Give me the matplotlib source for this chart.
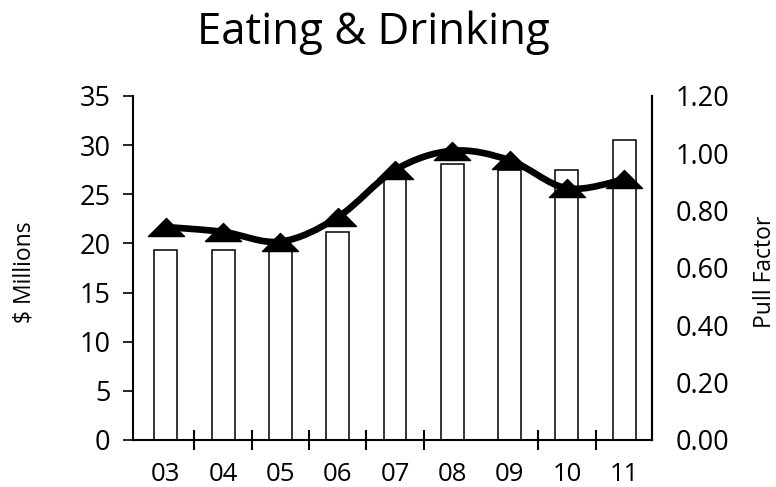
import numpy as np
import matplotlib
matplotlib.use("Agg")
import matplotlib.pyplot as plt
from matplotlib.path import Path
from matplotlib.patches import PathPatch

# ---- data ----
years = ["03", "04", "05", "06", "07", "08", "09", "10", "11"]
sales_millions = [19.3, 19.3, 19.6, 21.2, 26.6, 28.1, 27.5, 27.5, 30.5]
pull_factor = [0.743, 0.726, 0.692, 0.777, 0.942, 1.009, 0.976, 0.878, 0.909]
left_ticks = [0, 5, 10, 15, 20, 25, 30, 35]
right_ticks = [0.0, 0.2, 0.4, 0.6, 0.8, 1.0, 1.2]
right_labels = ["0.00", "0.20", "0.40", "0.60", "0.80", "1.00", "1.20"]

FONT = "Open Sans"
plt.rcParams["font.family"] = [FONT, "DejaVu Sans"]
TICK_FS = 19.5

W, H = 776, 487
fig = plt.figure(figsize=(W / 100, H / 100), dpi=100)
ax = fig.add_axes([133 / W, (H - 440) / H, (652 - 133) / W, (440 - 96) / H])

x = np.arange(len(years))
ax.bar(x, sales_millions, width=0.40, color="white", edgecolor="black",
       linewidth=1.1, zorder=2)

ax.set_xlim(-0.572, 8.485)
ax.set_ylim(0, 35)

ax.spines["top"].set_visible(False)
for s in ["left", "bottom", "right"]:
    ax.spines[s].set_linewidth(1.5)

# left axis
ax.set_yticks(left_ticks)
ax.set_yticklabels([str(v) for v in left_ticks])
ax.tick_params(axis="y", direction="out", length=7.2, width=1.2, pad=9,
               labelsize=TICK_FS)
yt = ax.yaxis.get_major_ticks()
yt[0].tick1line.set_visible(False)
yt[-1].tick1line.set_visible(False)

# bottom axis
ax.set_xticks(x)
ax.set_xticklabels(years)
ax.tick_params(axis="x", length=0, pad=16, labelsize=18.5)
minor_pos = [i + 0.5 for i in range(len(years) - 1) if i != 5]
ax.set_xticks(minor_pos, minor=True)
ax.tick_params(axis="x", which="minor", direction="inout", length=14.4,
               width=1.5)

# right axis
ax2 = ax.twinx()
ax2.set_ylim(0, 1.2)
ax2.set_xlim(ax.get_xlim())
for s in ["top", "left", "bottom"]:
    ax2.spines[s].set_visible(False)
ax2.spines["right"].set_linewidth(1.5)
ax2.set_yticks(right_ticks)
ax2.set_yticklabels(right_labels)
ax2.tick_params(axis="y", length=0, pad=17, labelsize=TICK_FS)

# smooth line (Catmull-Rom -> cubic Bezier) through the pull factor values
px = list(x.astype(float))
py = list(pull_factor)
n = len(px)
verts = [(px[0], py[0])]
codes = [Path.MOVETO]
for i in range(n - 1):
    i0 = max(i - 1, 0)
    i3 = min(i + 2, n - 1)
    c1 = (px[i] + (px[i + 1] - px[i0]) / 6, py[i] + (py[i + 1] - py[i0]) / 6)
    c2 = (px[i + 1] - (px[i3] - px[i]) / 6, py[i + 1] - (py[i3] - py[i]) / 6)
    verts += [c1, c2, (px[i + 1], py[i + 1])]
    codes += [Path.CURVE4] * 3
ax2.add_patch(PathPatch(Path(verts, codes), facecolor="none",
                        edgecolor="black", linewidth=4.8, capstyle="round",
                        zorder=3))

tri = Path([(-1, -0.5), (1, -0.5), (0, 0.5), (-1, -0.5)],
           [Path.MOVETO, Path.LINETO, Path.LINETO, Path.CLOSEPOLY])
ax2.plot(x, pull_factor, linestyle="none", marker=tri, markersize=26,
         color="black", zorder=4)

# titles and axis labels
fig.text(373.5 / W, 1 - 44 / H, "Eating & Drinking", ha="center",
         va="baseline", fontsize=31.5)
fig.text(25 / W, 1 - 272 / H, "$ Millions", rotation=90, ha="center",
         va="center", fontsize=16.5)
fig.text(765 / W, 1 - 272 / H, "Pull Factor", rotation=90, ha="center",
         va="center", fontsize=16.5)

fig.savefig("out.png", dpi=100)
